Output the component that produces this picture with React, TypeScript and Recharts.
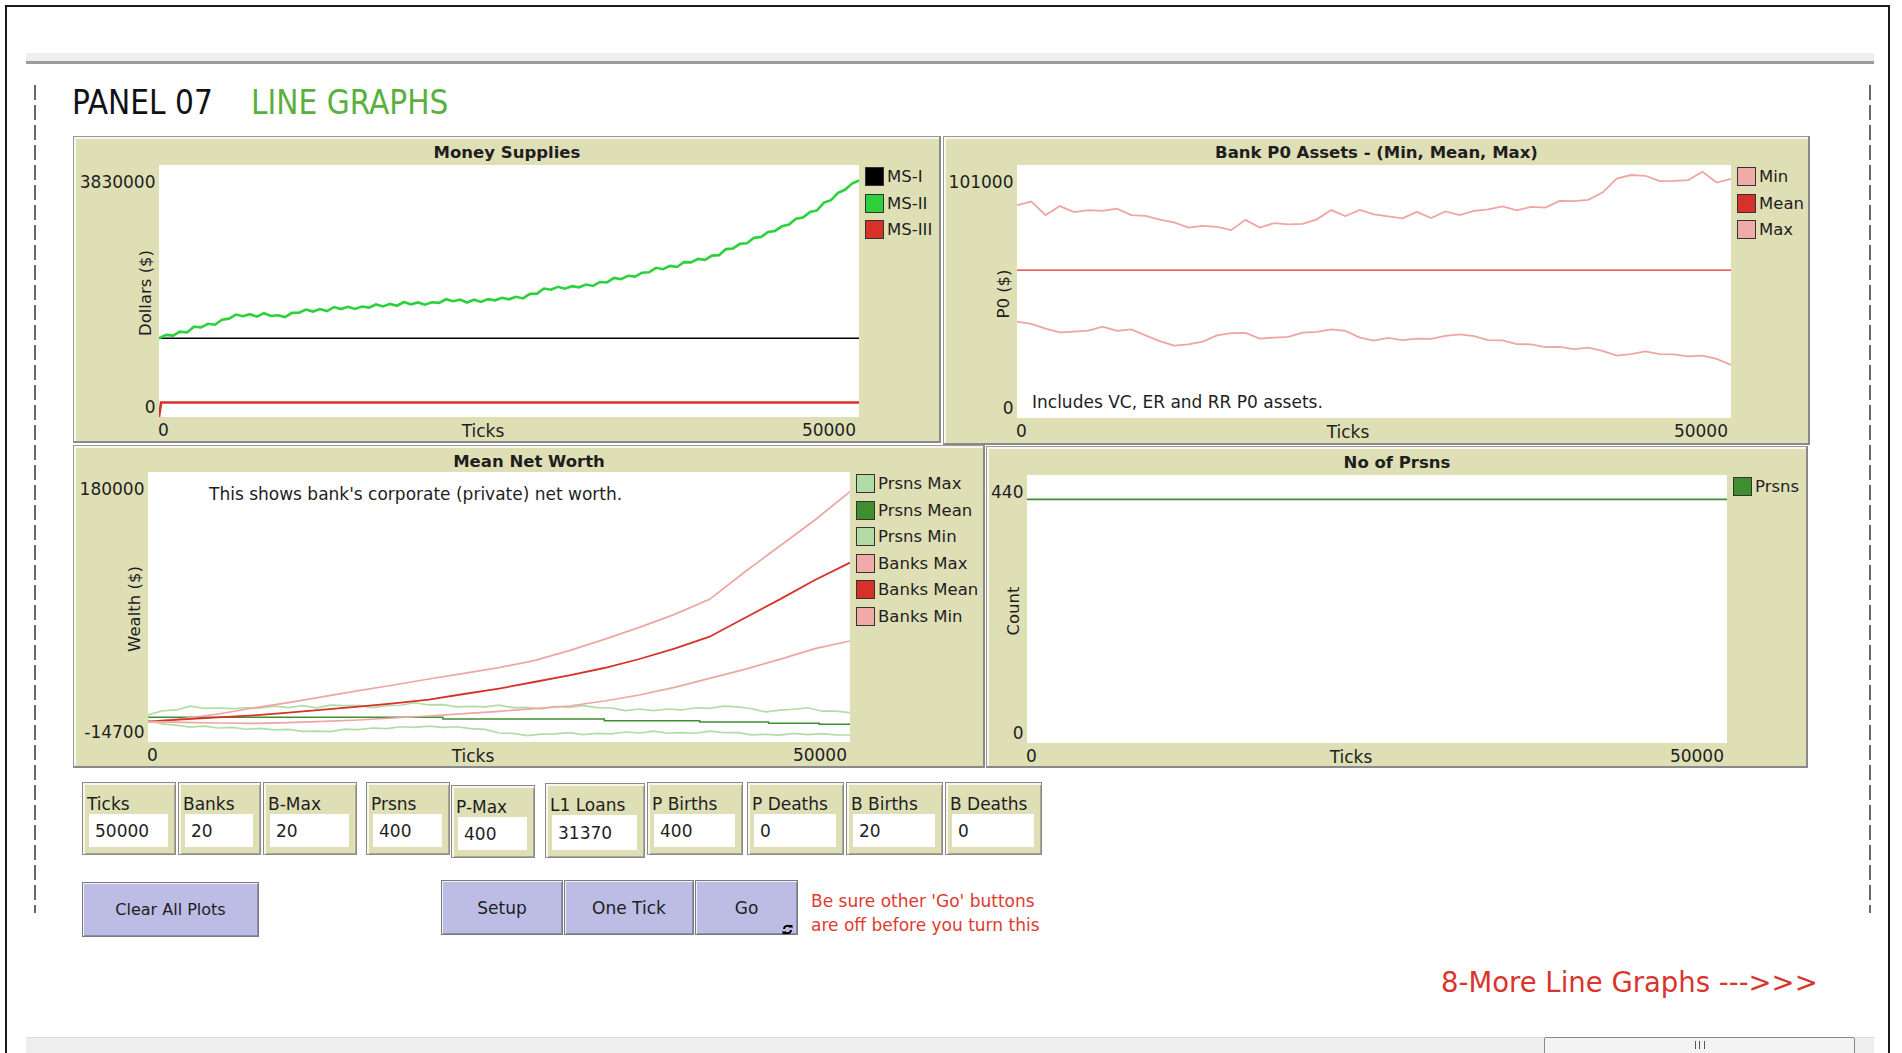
import { LineChart, Line, XAxis, YAxis } from 'recharts'

const FONT = "'DejaVu Sans', Verdana, sans-serif"
const BEIGE = '#dfdfb6'
const INK = '#1e1e1e'

// x values are model ticks
const TICKS_500 = [
  0, 500, 1000, 1500, 2000, 2500, 3000, 3500, 4000, 4500, 5000, 5500, 6000, 6500, 7000, 7500, 8000, 8500, 9000, 9500,
  10000, 10500, 11000, 11500, 12000, 12500, 13000, 13500, 14000, 14500, 15000, 15500, 16000, 16500, 17000, 17500, 18000, 18500, 19000, 19500,
  20000, 20500, 21000, 21500, 22000, 22500, 23000, 23500, 24000, 24500, 25000, 25500, 26000, 26500, 27000, 27500, 28000, 28500, 29000, 29500,
  30000, 30500, 31000, 31500, 32000, 32500, 33000, 33500, 34000, 34500, 35000, 35500, 36000, 36500, 37000, 37500, 38000, 38500, 39000, 39500,
  40000, 40500, 41000, 41500, 42000, 42500, 43000, 43500, 44000, 44500, 45000, 45500, 46000, 46500, 47000, 47500, 48000, 48500, 49000, 49500,
  50000,
]
const TICKS_1000 = [
  0, 1000, 2000, 3000, 4000, 5000, 6000, 7000, 8000, 9000, 10000, 11000, 12000, 13000, 14000, 15000, 16000, 17000, 18000, 19000,
  20000, 21000, 22000, 23000, 24000, 25000, 26000, 27000, 28000, 29000, 30000, 31000, 32000, 33000, 34000, 35000, 36000, 37000, 38000, 39000,
  40000, 41000, 42000, 43000, 44000, 45000, 46000, 47000, 48000, 49000, 50000,
]
const TICKS_2500 = [
  0, 2500, 5000, 7500, 10000, 12500, 15000, 17500, 20000, 22500, 25000, 27500, 30000, 32500, 35000, 37500, 40000, 42500, 45000, 47500, 50000,
]
const TICKS_ENDS = [0, 50000]

// Money Supplies
const MS1_VALUES = [1196000, 1196000]
const MS2_VALUES = [
  1196000, 1247000, 1237000, 1297000, 1285000, 1373000, 1360000, 1416000, 1403000, 1478000,
  1495000, 1557000, 1532000, 1562000, 1525000, 1578000, 1535000, 1546000, 1518000, 1583000,
  1585000, 1632000, 1602000, 1640000, 1610000, 1670000, 1640000, 1674000, 1643000, 1680000,
  1663000, 1710000, 1680000, 1719000, 1691000, 1748000, 1712000, 1741000, 1706000, 1743000,
  1735000, 1790000, 1760000, 1784000, 1740000, 1783000, 1748000, 1791000, 1773000, 1812000,
  1789000, 1826000, 1802000, 1872000, 1875000, 1953000, 1935000, 1979000, 1950000, 1988000,
  1971000, 2013000, 1992000, 2052000, 2045000, 2113000, 2095000, 2146000, 2133000, 2193000,
  2200000, 2267000, 2247000, 2297000, 2280000, 2353000, 2350000, 2402000, 2388000, 2453000,
  2460000, 2552000, 2562000, 2632000, 2640000, 2723000, 2735000, 2811000, 2828000, 2898000,
  2925000, 3012000, 3032000, 3117000, 3140000, 3258000, 3295000, 3406000, 3453000, 3548000,
  3595000,
]
const MS3_TICKS = [0, 150, 50000]
const MS3_VALUES = [0, 220000, 220000]

// Bank P0 assets
const P0_MIN = [
  38500, 37600, 35700, 34200, 34500, 34900, 36500, 34800, 35400, 33000,
  30700, 28900, 29400, 30500, 33000, 33900, 34000, 31700, 32100, 32400,
  34100, 34400, 35400, 34800, 32100, 30900, 32000, 31100, 31700, 31600,
  32800, 33400, 32700, 31100, 31000, 29500, 29400, 28300, 28400, 27500,
  28100, 26800, 24900, 25500, 26600, 25500, 25400, 24600, 24900, 23600,
  21200,
]
const P0_MEAN = [59000, 59000]
const P0_MAX = [
  85000, 86400, 81000, 84600, 82200, 83000, 82700, 83600, 81000, 80700,
  79200, 78100, 76000, 76700, 76300, 75000, 79100, 76000, 77800, 77300,
  77500, 79300, 83000, 80600, 83100, 81300, 80500, 79700, 82300, 79800,
  82500, 81000, 82700, 83300, 84500, 82900, 84300, 84000, 86700, 86600,
  87100, 90000, 95600, 97000, 96700, 94600, 94700, 95000, 98300, 94000,
  95500,
]

// Mean Net Worth
const PRSNS_MAX = [
  4800, 7700, 8400, 11200, 9600, 9800, 9400, 10000, 9900, 11200,
  10100, 11500, 9900, 11900, 11500, 11700, 10100, 11500, 11800, 13600,
  12000, 12200, 10600, 11000, 10600, 11900, 10100, 10300, 9100, 11000,
  10300, 11500, 10100, 9800, 7900, 9100, 7900, 9100, 8400, 10000,
  9600, 11200, 10600, 9300, 7000, 8300, 8900, 10000, 7500, 7600,
  6500,
]
const PRSNS_MEAN_TICKS = [0, 21000, 32500, 39300, 44200, 47800, 50000]
const PRSNS_MEAN = [3090, 1890, 690, -280, -1240, -1960, -1960]
const PRSNS_MIN = [
  1170, -1700, -2500, -3900, -3200, -4600, -4100, -5500, -4900, -6000,
  -5600, -7000, -6800, -7200, -5400, -5800, -4600, -5100, -3700, -4100,
  -3200, -4100, -3700, -5000, -5600, -8200, -8500, -10100, -9000, -8900,
  -8000, -9400, -8500, -8900, -7500, -8200, -6800, -8400, -8000, -8400,
  -6800, -7900, -8000, -9600, -9200, -9800, -8500, -9400, -8700, -9600,
  -9650,
]
const BANKS_MAX = [
  0, 2130, 5490, 9820, 13660, 17980, 22310, 26390, 30720, 34810, 38890,
  43940, 51150, 59320, 67970, 77350, 88180, 107890, 126640, 145390, 165820,
]
const BANKS_MEAN = [
  0, 1650, 3090, 4530, 6460, 8620, 10780, 13190, 15830, 19910, 23760,
  28570, 33380, 38660, 45150, 52600, 61250, 74720, 88180, 102120, 114620,
]
const BANKS_MIN = [
  0, -515, -1000, -1230, -750, 210, 1160, 2600, 4030, 5720, 7400,
  9330, 11250, 14860, 19190, 24710, 31200, 37690, 44900, 52600, 58140,
]

// No of Prsns
const PRSNS_COUNT = [400, 400]

// monitors: label, value
const MONITOR_LABELS = ['Ticks', 'Banks', 'B-Max', 'Prsns', 'P-Max', 'L1 Loans', 'P Births', 'P Deaths', 'B Births', 'B Deaths']
const MONITOR_VALUES = ['50000', '20', '20', '400', '400', '31370', '400', '0', '20', '0']
const MONITOR_BOXES = [
  [82, 782, 94, 73], [178, 782, 83, 73], [263, 782, 94, 73], [366, 782, 84, 73], [451, 785, 84, 73],
  [545, 783, 100, 75], [647, 782, 96, 73], [747, 782, 97, 73], [846, 782, 97, 73], [945, 782, 97, 73],
]

const PINK = '#eea6a2'
const RED = '#d73229'
const LIGHT_GREEN = '#b3dba6'
const DARK_GREEN = '#3f8f2f'

type Rect = { x: number; y: number; w: number; h: number }
type Series = { name: string; ticks: number[]; values: number[]; color: string; width: number; step?: boolean }

const pts = (ticks: number[], values: number[]) => ticks.map((t, i) => ({ t, v: values[i] }))

const abs = (x: number, y: number): React.CSSProperties => ({ position: 'absolute', left: x, top: y })

function Plot({ box, plot, title, yLabel, yMin, yMax, series, note }: {
  box: Rect; plot: Rect; title: string; yLabel: string; yMin: number; yMax: number; series: Series[];
  note?: { text: string; x: number; y: number }
}) {
  const top = plot.y - box.y
  const left = plot.x - box.x
  const right = box.x + box.w - plot.x - plot.w
  const bottom = box.y + box.h - plot.y - plot.h
  const plotBottom = top + plot.h
  const txt = { fontFamily: FONT, fontSize: 17, fill: INK }

  return (
    <>
      <div style={{
        ...abs(box.x, box.y), width: box.w, height: box.h, boxSizing: 'border-box', background: BEIGE,
        borderTop: '1px solid #9a9a9a', borderLeft: '1px solid #9a9a9a', borderRight: '2px solid #8a8a8a', borderBottom: '2px solid #8a8a8a',
        boxShadow: 'inset 2px 2px 0 #f7f7ee',
      }} />
      <div style={{ ...abs(plot.x, plot.y), width: plot.w, height: plot.h, background: '#fff' }} />
      <div style={{ ...abs(box.x + box.w / 2, box.y + 16), transform: 'translate(-50%, -50%)', whiteSpace: 'nowrap', fontFamily: FONT, fontWeight: 'bold', fontSize: 16.5, color: INK }}>{title}</div>
      <div style={{ ...abs(box.x, box.y) }}>
        <LineChart width={box.w} height={box.h} margin={{ top, right, bottom: 0, left: 0 }}>
          <XAxis
            type="number" dataKey="t" domain={[0, 50000]} ticks={[0, 50000]} interval={0} height={bottom}
            axisLine={false} tickLine={false} allowDataOverflow
            tick={(p: any) => (
              <text x={p.payload.value === 0 ? p.x - 1 : p.x - 3} y={plotBottom + 13.5} dy="0.35em"
                textAnchor={p.payload.value === 0 ? 'start' : 'end'} {...txt}>{p.payload.value}</text>
            )}
          />
          <YAxis
            type="number" domain={[yMin, yMax]} ticks={[yMin, yMax]} interval={0} width={left}
            axisLine={false} tickLine={false} allowDataOverflow
            tick={(p: any) => (
              <text x={left - 3.5} y={p.payload.value === yMax ? top + 17.5 : plotBottom - 10} dy="0.35em"
                textAnchor="end" {...txt}>{p.payload.value}</text>
            )}
          />
          {series.map(s => (
            <Line key={s.name} data={pts(s.ticks, s.values)} dataKey="v" type={s.step ? 'stepAfter' : 'linear'}
              stroke={s.color} strokeWidth={s.width} dot={false} activeDot={false} isAnimationActive={false} />
          ))}
        </LineChart>
      </div>
      <div style={{ ...abs(plot.x - 14, plot.y + plot.h / 2 + 2), transform: 'translate(-50%, -50%) rotate(-90deg)', whiteSpace: 'nowrap', fontFamily: FONT, fontSize: 16.5, color: INK }}>{yLabel}</div>
      <div style={{ ...abs(plot.x + plot.w / 2 - 26, plot.y + plot.h + 13.5), transform: 'translate(-50%, -50%)', fontFamily: FONT, fontSize: 17, color: INK }}>Ticks</div>
      {series.map((s, i) => (
        <div key={s.name} style={{ ...abs(plot.x + plot.w + 6, plot.y + 1 + i * 26.6), display: 'flex', alignItems: 'center', height: 21 }}>
          <div style={{ width: 19, height: 19, boxSizing: 'border-box', border: '1px solid #333', background: s.color === PINK ? '#f0aaa8' : s.color }} />
          <span style={{ marginLeft: 3, fontFamily: FONT, fontSize: 16.5, color: INK, whiteSpace: 'nowrap' }}>{s.name}</span>
        </div>
      ))}
      {note && (
        <div style={{ ...abs(note.x, note.y), transform: 'translateY(-50%)', whiteSpace: 'nowrap', fontFamily: FONT, fontSize: 17, color: INK }}>{note.text}</div>
      )}
    </>
  )
}

function Dashed({ x }: { x: number }) {
  return (
    <svg style={{ ...abs(x - 2, 85) }} width={4} height={828}>
      <line x1={2} y1={0} x2={2} y2={828} stroke="#444" strokeWidth={1.6} strokeDasharray="15 5" />
    </svg>
  )
}

function Button({ x, y, w, h, label, size = 17, children }: { x: number; y: number; w: number; h: number; label: string; size?: number; children?: React.ReactNode }) {
  return (
    <div style={{
      ...abs(x, y), width: w, height: h, boxSizing: 'border-box', background: '#bcbce5',
      border: '1px solid #7a7a7a', boxShadow: 'inset 1px 1px 0 #f0f0fa, inset -1px -1px 0 #8c8cab',
      display: 'flex', alignItems: 'center', justifyContent: 'center', fontFamily: FONT, fontSize: size, color: INK,
    }}>
      {label}
      {children}
    </div>
  )
}

export default function App() {
  const msSeries: Series[] = [
    { name: 'MS-I', ticks: TICKS_ENDS, values: MS1_VALUES, color: '#000000', width: 1.5 },
    { name: 'MS-II', ticks: TICKS_500, values: MS2_VALUES, color: '#2cd13b', width: 2.6 },
    { name: 'MS-III', ticks: MS3_TICKS, values: MS3_VALUES, color: RED, width: 2.6 },
  ]
  const p0Series: Series[] = [
    { name: 'Min', ticks: TICKS_1000, values: P0_MIN, color: PINK, width: 1.8 },
    { name: 'Mean', ticks: TICKS_ENDS, values: P0_MEAN, color: RED, width: 1.3 },
    { name: 'Max', ticks: TICKS_1000, values: P0_MAX, color: PINK, width: 1.8 },
  ]
  const nwSeries: Series[] = [
    { name: 'Prsns Max', ticks: TICKS_1000, values: PRSNS_MAX, color: LIGHT_GREEN, width: 1.7 },
    { name: 'Prsns Mean', ticks: PRSNS_MEAN_TICKS, values: PRSNS_MEAN, color: DARK_GREEN, width: 1.5, step: true },
    { name: 'Prsns Min', ticks: TICKS_1000, values: PRSNS_MIN, color: LIGHT_GREEN, width: 1.7 },
    { name: 'Banks Max', ticks: TICKS_2500, values: BANKS_MAX, color: PINK, width: 1.7 },
    { name: 'Banks Mean', ticks: TICKS_2500, values: BANKS_MEAN, color: RED, width: 1.8 },
    { name: 'Banks Min', ticks: TICKS_2500, values: BANKS_MIN, color: PINK, width: 1.7 },
  ]
  const countSeries: Series[] = [
    { name: 'Prsns', ticks: TICKS_ENDS, values: PRSNS_COUNT, color: DARK_GREEN, width: 1.6 },
  ]

  return (
    <div style={{ position: 'absolute', left: 0, top: 0, width: 1902, height: 1053, background: '#fff', overflow: 'hidden' }}>
      {/* page frame */}
      <div style={{ ...abs(5, 5), width: 1885, height: 1100, boxSizing: 'border-box', border: '2px solid #1a1a1a' }} />
      <div style={{ ...abs(26, 53), width: 1848, height: 8, background: '#eeeeee' }} />
      <div style={{ ...abs(26, 61), width: 1848, height: 3, background: '#9a9a9a' }} />
      <Dashed x={35} />
      <Dashed x={1870} />

      <div style={{ ...abs(72, 102), transform: 'translateY(-50%)', fontFamily: "'DejaVu Sans Condensed', 'DejaVu Sans', sans-serif", fontStretch: 'condensed', fontSize: 33, color: '#111', whiteSpace: 'nowrap' }}>PANEL 07</div>
      <div style={{ ...abs(251, 102), transform: 'translateY(-50%)', fontFamily: "'DejaVu Sans Condensed', 'DejaVu Sans', sans-serif", fontStretch: 'condensed', fontSize: 33, color: '#59b03c', whiteSpace: 'nowrap' }}>LINE GRAPHS</div>

      <Plot box={{ x: 73, y: 136, w: 868, h: 307 }} plot={{ x: 159, y: 165, w: 700, h: 252 }}
        title="Money Supplies" yLabel="Dollars ($)" yMin={0} yMax={3830000} series={msSeries} />
      <Plot box={{ x: 943, y: 136, w: 867, h: 309 }} plot={{ x: 1017, y: 165, w: 714, h: 253 }}
        title="Bank P0 Assets - (Min, Mean, Max)" yLabel="P0 ($)" yMin={0} yMax={101000} series={p0Series}
        note={{ text: 'Includes VC, ER and RR P0 assets.', x: 1032, y: 402 }} />
      <Plot box={{ x: 73, y: 445, w: 912, h: 323 }} plot={{ x: 148, y: 472, w: 702, h: 270 }}
        title="Mean Net Worth" yLabel="Wealth ($)" yMin={-14700} yMax={180000} series={nwSeries}
        note={{ text: "This shows bank's corporate (private) net worth.", x: 209, y: 494 }} />
      <Plot box={{ x: 986, y: 446, w: 822, h: 322 }} plot={{ x: 1027, y: 475, w: 700, h: 268 }}
        title="No of Prsns" yLabel="Count" yMin={0} yMax={440} series={countSeries} />

      {MONITOR_BOXES.map(([x, y, w, h], i) => (
        <div key={MONITOR_LABELS[i]} style={{
          ...abs(x, y), width: w, height: h, boxSizing: 'border-box', background: BEIGE,
          border: '1px solid #8a8a8a', boxShadow: 'inset 2px 2px 0 #f7f7ee, inset -1px -1px 0 #a8a894',
        }}>
          <div style={{ position: 'absolute', left: 4, top: 21, transform: 'translateY(-50%)', fontFamily: FONT, fontSize: 17, color: INK, whiteSpace: 'nowrap' }}>{MONITOR_LABELS[i]}</div>
          <div style={{ position: 'absolute', left: 6, top: 31, width: w - 15, height: h - 40, background: '#fff', display: 'flex', alignItems: 'center', paddingLeft: 6, boxSizing: 'border-box', fontFamily: FONT, fontSize: 17, color: INK }}>{MONITOR_VALUES[i]}</div>
        </div>
      ))}

      <Button x={82} y={882} w={177} h={55} label="Clear All Plots" size={16} />
      <Button x={441} y={880} w={122} h={55} label="Setup" />
      <Button x={564} y={880} w={130} h={55} label="One Tick" />
      <Button x={695} y={880} w={103} h={55} label="Go">
        <svg style={{ position: 'absolute', left: 86, top: 43 }} width={11} height={11} viewBox="0 0 11 11">
          <path d="M2 5 A3.5 3.5 0 0 1 8.5 3.5" stroke="#000" strokeWidth={2} fill="none" />
          <path d="M9 6 A3.5 3.5 0 0 1 2.5 7.5" stroke="#000" strokeWidth={2} fill="none" />
          <path d="M7 1 L10.5 1 L10.5 4.5 Z" fill="#000" />
          <path d="M4 10 L0.5 10 L0.5 6.5 Z" fill="#000" />
        </svg>
      </Button>
      <div style={{ ...abs(811, 901), transform: 'translateY(-50%)', fontFamily: FONT, fontSize: 17, color: '#e0392f', whiteSpace: 'nowrap' }}>Be sure other 'Go' buttons</div>
      <div style={{ ...abs(811, 925), transform: 'translateY(-50%)', fontFamily: FONT, fontSize: 17, color: '#e0392f', whiteSpace: 'nowrap' }}>are off before you turn this</div>

      <div style={{ ...abs(1441, 982), transform: 'translateY(-50%)', fontFamily: FONT, fontSize: 27.5, color: '#d9352c', whiteSpace: 'nowrap' }}>8-More Line Graphs ---&gt;&gt;&gt;</div>

      {/* bottom scroll bar */}
      <div style={{ ...abs(26, 1037), width: 1848, height: 16, background: '#eeeeee', borderTop: '1px solid #dadada' }} />
      <div style={{ ...abs(1544, 1037), width: 311, height: 20, boxSizing: 'border-box', background: '#f3f3f3', border: '1px solid #8a8a8a', borderRadius: 2 }}>
        <div style={{ position: 'absolute', left: 150, top: 3, width: 8, height: 8, borderLeft: '1px solid #555', borderRight: '1px solid #555' }}>
          <div style={{ position: 'absolute', left: 3, top: 0, width: 1, height: 8, background: '#555' }} />
        </div>
      </div>
    </div>
  )
}
